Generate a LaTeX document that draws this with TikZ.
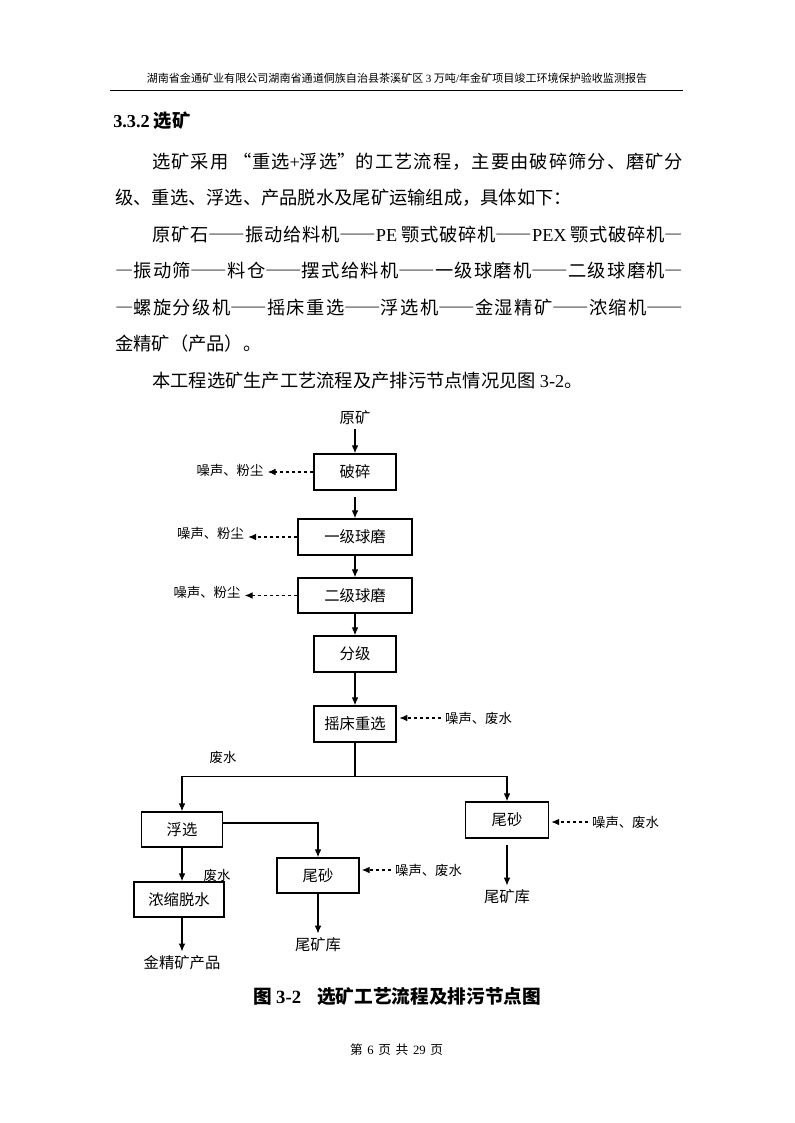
\documentclass[tikz,border=0pt]{standalone}
\usepackage{fontspec}
\setmainfont{Noto Sans CJK SC}
\newfontfamily\tm{Liberation Serif}
\newfontfamily\fw[RawFeature=+fwid]{Noto Sans CJK SC}
\usepackage{xcolor}
\usepackage{tikz}
\usetikzlibrary{arrows.meta, positioning, calc}
% glue between Chinese characters, so that justified lines can stretch
\XeTeXinterchartokenstate=1
\newXeTeXintercharclass\cjkcls
\newcount\cjkcode
\cjkcode="4E00
\loop
  \XeTeXcharclass\cjkcode=\cjkcls
  \ifnum\cjkcode<"9FFF \advance\cjkcode by 1
\repeat
\XeTeXcharclass"3001=\cjkcls
\XeTeXcharclass"3002=\cjkcls
\XeTeXcharclass"FF0C=\cjkcls
\XeTeXcharclass"FF1A=\cjkcls
\XeTeXinterchartoks\cjkcls\cjkcls={\hskip 0pt plus 1fil\relax}
\newcommand\dd{{\fw ——}}
\newcommand\sd{{\fw —}}
\tikzstyle{para} = [
    anchor=west,
    inner sep=0pt,
    font=\fontsize{13.7}{16}\selectfont
]
\tikzstyle{box} = [
    rectangle,
    draw,
    line width=1pt,
    minimum width=61.5pt,
    minimum height=27pt,
    inner sep=0pt,
    text centered,
    font=\fontsize{11.5}{13}\selectfont
]
\tikzstyle{note} = [inner sep=3pt, font=\fontsize{10}{12}\selectfont]
\tikzstyle{tag} = [inner sep=3pt, font=\fontsize{11.5}{13}\selectfont]
\tikzstyle{flow} = [
    line width=0.9pt,
    -{Latex[length=6pt, width=5pt]}
]
\tikzstyle{dflow} = [
    line width=0.9pt,
    dash pattern=on 2.5pt off 2pt,
    -{Latex[length=6pt, width=5pt]}
]
\begin{document}
\begin{tikzpicture}[x=0.75pt, y=-0.75pt]
        \useasboundingbox (0,0) rectangle (794,1123);
        \fill[white] (0,0) rectangle (794,1123);

        % Header
        \node[font=\fontsize{8.3}{10}\selectfont] (hdr) at (397,78) {湖南省金通矿业有限公司湖南省通道侗族自治县茶溪矿区 {\tm 3} 万吨{\tm /}年金矿项目竣工环境保护验收监测报告};
        \draw[line width=0.75pt] (110,91) -- (683,91);

        % Text
        \node[para, font=\fontsize{13.7}{16}\selectfont\bfseries] (sec) at (113,121) {{\tm 3.3.2} 选矿};
        \node[para] (t1) at (152,161.7) {\makebox[398.25pt][s]{选矿采用\hspace{4pt}“重选{\tm +}浮选”的工艺流程，主要由破碎筛分、磨矿分}};
        \node[para] (t2) at (115,198.1) {级、重选、浮选、产品脱水及尾矿运输组成，具体如下：};
        \node[para] (t3) at (152,234.5) {\makebox[398.25pt][s]{原矿石\dd 振动给料机\dd{\tm PE}\hspace{3pt}颚式破碎机\dd{\tm PEX}\hspace{3pt}颚式破碎机\sd}};
        \node[para] (t4) at (115,270.9) {\makebox[426pt][s]{\sd 振动筛\dd 料仓\dd 摆式给料机\dd 一级球磨机\dd 二级球磨机\sd}};
        \node[para] (t5) at (115,307.3) {\makebox[426pt][s]{\sd 螺旋分级机\dd 摇床重选\dd 浮选机\dd 金湿精矿\dd 浓缩机\dd}};
        \node[para] (t6) at (115,343.7) {金精矿（产品）。};
        \node[para] (t7) at (152,380.1) {本工程选矿生产工艺流程及产排污节点情况见图 {\tm 3-2}。};

        % Steps
        \node[tag] (ore) at (355,418) {原矿};
        \node[box] (posui) at (355,472) {破碎};
        \node[box, minimum width=85.5pt] (yiji) at (355,537) {一级球磨};
        \node[box, minimum width=85.5pt, minimum height=26.25pt] (erji) at (355,595.5) {二级球磨};
        \node[box] (fenji) at (355,654) {分级};
        \node[box] (yaochuang) at (355,724) {摇床重选};
        \node[box, minimum width=60.75pt, minimum height=26.25pt] (fuxuan) at (182,829.5) {浮选};
        \node[box, minimum width=62.25pt] (weisha1) at (507,820) {尾砂};
        \node[box, minimum height=26.25pt] (weisha2) at (318,875.5) {尾砂};
        \node[box, minimum width=67.5pt, minimum height=26.25pt] (nongsuo) at (179,899.5) {浓缩脱水};

        % Outputs
        \node[tag] (ku1) at (507,897) {尾矿库};
        \node[tag] (ku2) at (318,945) {尾矿库};
        \node[tag] (prod) at (182,963) {金精矿产品};

        % Pollutants
        \node[note] (n1) at (230,470.5) {噪声、粉尘};
        \node[note] (n2) at (210.5,533) {噪声、粉尘};
        \node[note] (n3) at (207,592) {噪声、粉尘};
        \node[note] (n4) at (478.5,718) {噪声、废水};
        \node[note] (n5) at (625.5,822) {噪声、废水};
        \node[note] (n6) at (428.5,870) {噪声、废水};
        \node[note] (w1) at (223,757) {废水};
        \node[note] (w2) at (217,875) {废水};

        % Arrows
        \draw[flow] (ore) -- (posui);
        \draw[flow, shorten <=5pt] (posui) -- (yiji);
        \draw[flow] (yiji) -- (erji);
        \draw[flow] (erji) -- (fenji);
        \draw[flow] (fenji) -- (yaochuang);
        \draw[line width=0.9pt] (yaochuang.south) -- ++(0,34) coordinate (fork);
        \draw[flow] (fork) -| (fuxuan.north);
        \draw[flow] (fork) -| (weisha1.north);
        \draw[flow] ([yshift=4.9pt]fuxuan.east) -| (weisha2.north);
        \draw[flow] (fuxuan.south) -- (fuxuan.south |- nongsuo.north);
        \draw[flow] (fuxuan.south |- nongsuo.south) -- (prod);
        \draw[flow, shorten <=5pt] (weisha1) -- (ku1);
        \draw[flow] (weisha2) -- (ku2);

        % Dashed arrows
        \draw[dflow] (posui.west) -- (posui.west -| n1.east);
        \draw[dflow] (yiji.west) -- (yiji.west -| n2.east);
        \draw[dflow] (erji.west) -- (erji.west -| n3.east);
        \draw[dflow, shorten >=2pt] (n4.west) -- (n4.west -| yaochuang.east);
        \draw[dflow, shorten >=1.5pt] (n5.west) -- (n5.west -| weisha1.east);
        \draw[dflow, shorten >=1.5pt] (n6.west) -- (n6.west -| weisha2.east);

        % Caption and footer
        \node[para, font=\fontsize{14}{16}\selectfont\bfseries] (cap) at (253,997) {图 {\tm 3-2}\hspace{12pt}选矿工艺流程及排污节点图};
        \node[font=\fontsize{9.5}{11}\selectfont] (foot) at (396.5,1050) {第\hspace{3.5pt}{\tm 6}\hspace{3.5pt}页\hspace{3.5pt}共\hspace{3.5pt}{\tm 29}\hspace{3.5pt}页};
    \end{tikzpicture}
\end{document}
